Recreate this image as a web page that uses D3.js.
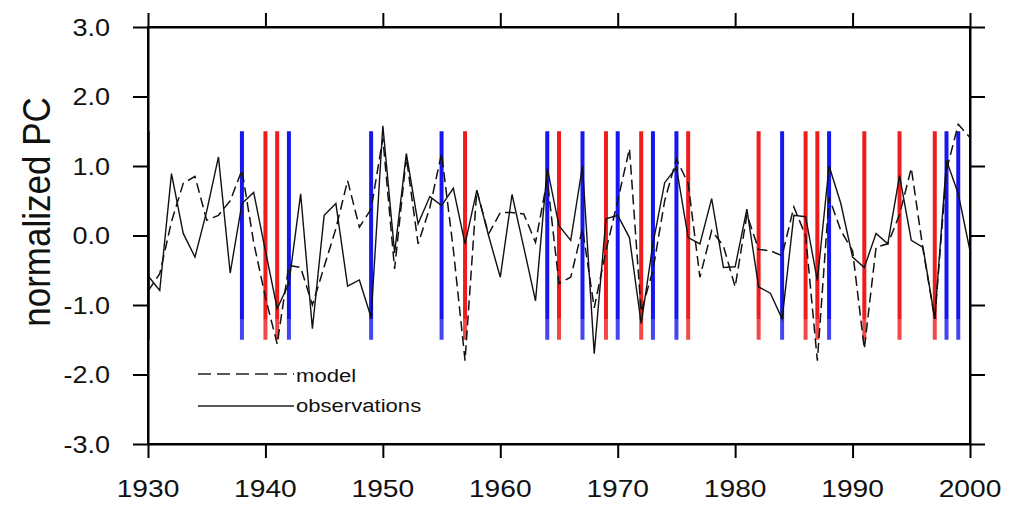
<!DOCTYPE html>
<html><head><meta charset="utf-8">
<script src="https://cdn.jsdelivr.net/npm/d3@7"></script>
<style>body{margin:0;background:#fff}svg{display:block}</style>
</head><body>
<svg id="c" width="1020" height="506"></svg>
<script>
const years = d3.range(1930, 2001);
const observations = [-0.58,-0.79,0.89,0.03,-0.31,0.35,1.13,-0.54,0.46,0.62,
 -0.22,-1.05,-0.69,0.60,-1.34,0.29,0.46,-0.73,-0.64,-1.18,
 1.58,-0.25,1.18,0.17,0.56,0.43,0.68,-0.12,0.65,0.0,
 -0.6,0.59,-0.17,-0.94,0.97,0.14,-0.07,1.0,-1.7,0.24,
 0.29,-0.03,-1.27,-0.12,0.76,0.98,-0.03,-0.12,0.53,-0.46,
 -0.45,0.38,-0.74,-0.83,-1.2,0.29,0.27,-0.65,1.0,0.46,
 -0.31,-0.46,0.03,-0.12,0.86,-0.07,-0.17,-1.2,1.08,0.6,-0.22];
const model = [-0.8,-0.55,0.2,0.75,0.85,0.22,0.29,0.5,0.94,-0.1,
 -0.89,-1.56,-0.43,-0.46,-1.0,-0.45,0.1,0.79,0.12,0.38,
 1.4,-0.48,1.13,-0.12,0.4,1.18,-0.2,-1.8,0.65,0.02,
 0.33,0.33,0.31,-0.1,0.8,-0.69,-0.6,0.1,-1.04,-0.22,
 0.5,1.25,-1.1,-0.5,0.5,1.1,0.75,-0.6,0.07,-0.15,
 -0.74,0.3,-0.2,-0.22,-0.29,0.41,0.0,-1.8,0.55,0.07,
 -0.22,-1.63,-0.17,-0.12,0.3,0.97,-0.2,-1.2,0.94,1.6,1.41];
const redYears = [1930,1940,1941,1957,1965,1969,1972,1976,1982,1986,1987,1991,1994,1997];
const blueYears = [1938,1942,1949,1955,1964,1967,1970,1973,1975,1984,1988,1998,1999];
const barRange = [1.5, -1.5];
const barFadeStart = -1.2;
const xTicks = [1930,1940,1950,1960,1970,1980,1990,2000];
const yTicks = [3,2,1,0,-1,-2,-3];
const yTitle = "normalized PC";
const legendLabels = ["model", "observations"];

const svg = d3.select("#c");
const L = 148, R = 970, T = 27, B = 444;
const x = d3.scaleLinear().domain([1930, 2000]).range([L, R]);
const y = d3.scaleLinear().domain([-3, 3]).range([B, T]);
const SX = 1.15;
const font = "'Liberation Sans', Arial, Helvetica, sans-serif";

svg.append("defs").append("clipPath").attr("id","clip")
  .append("rect").attr("x",L).attr("y",T).attr("width",R-L).attr("height",B-T);

const bars = svg.append("g").attr("clip-path","url(#clip)");
const barData = redYears.map(v=>({yr:v,c:"#ee1c1c"})).concat(blueYears.map(v=>({yr:v,c:"#1616ee"})));
bars.selectAll("line.top").data(barData).join("line")
  .attr("x1",d=>x(d.yr)).attr("x2",d=>x(d.yr))
  .attr("y1",y(barRange[0])).attr("y2",y(barFadeStart))
  .attr("stroke",d=>d.c).attr("stroke-width",4);
bars.selectAll("line.bot").data(barData).join("line")
  .attr("x1",d=>x(d.yr)).attr("x2",d=>x(d.yr))
  .attr("y1",y(barFadeStart)).attr("y2",y(barRange[1]))
  .attr("stroke",d=>d.c).attr("stroke-width",4).attr("stroke-opacity",0.8);

const line = d3.line().x((d,i)=>x(years[i])).y(d=>y(d));
const lines = svg.append("g").attr("clip-path","url(#clip)");
lines.append("path").attr("d",line(model)).attr("fill","none")
  .attr("stroke","#111").attr("stroke-width",1.5).attr("stroke-dasharray","10,5");
lines.append("path").attr("d",line(observations)).attr("fill","none")
  .attr("stroke","#111").attr("stroke-width",1.4);

// axes (ticks outward on all sides)
const axStyle = g => { g.selectAll("path,line").attr("stroke","#000").attr("stroke-width",2);
  g.selectAll("text").remove(); };
svg.append("g").attr("transform",`translate(0,${B})`)
  .call(d3.axisBottom(x).tickValues(xTicks).tickSize(14).tickSizeOuter(0)).call(axStyle);
svg.append("g").attr("transform",`translate(0,${T})`)
  .call(d3.axisTop(x).tickValues(xTicks).tickSize(14).tickSizeOuter(0)).call(axStyle);
svg.append("g").attr("transform",`translate(${L},0)`)
  .call(d3.axisLeft(y).tickValues(yTicks).tickSize(15).tickSizeOuter(0)).call(axStyle);
svg.append("g").attr("transform",`translate(${R},0)`)
  .call(d3.axisRight(y).tickValues(yTicks).tickSize(15).tickSizeOuter(0)).call(axStyle);
svg.append("rect").attr("x",L).attr("y",T).attr("width",R-L).attr("height",B-T)
  .attr("fill","none").attr("stroke","#000").attr("stroke-width",2);

// tick labels
svg.append("g").selectAll("text").data(yTicks).join("text")
  .attr("transform",d=>`translate(110,${y(d)+8.5}) scale(${SX},1)`)
  .attr("text-anchor","end").attr("font-family",font).attr("font-size",23.5)
  .attr("fill","#111").text(d=>d.toFixed(1));
svg.append("g").selectAll("text").data(xTicks).join("text")
  .attr("transform",d=>`translate(${x(d)},${497}) scale(${SX},1)`)
  .attr("text-anchor","middle").attr("font-family",font).attr("font-size",24.5)
  .attr("fill","#111").text(d=>d);
svg.append("text")
  .attr("transform",`translate(50,212) scale(1.1,1) rotate(-90)`)
  .attr("text-anchor","middle").attr("font-family",font).attr("font-size",35)
  .attr("fill","#111").text(yTitle);

// legend
const lg = svg.append("g");
lg.append("line").attr("x1",198).attr("x2",294).attr("y1",374).attr("y2",374)
  .attr("stroke","#222").attr("stroke-width",1.6).attr("stroke-dasharray","13,6");
lg.append("line").attr("x1",198).attr("x2",294).attr("y1",406).attr("y2",406)
  .attr("stroke","#222").attr("stroke-width",1.6);
lg.selectAll("text").data(legendLabels).join("text")
  .attr("transform",(d,i)=>`translate(296,${382+i*30}) scale(${SX},1)`)
  .attr("font-family",font).attr("font-size",19.2).attr("fill","#111").text(d=>d);
</script>
</body></html>
